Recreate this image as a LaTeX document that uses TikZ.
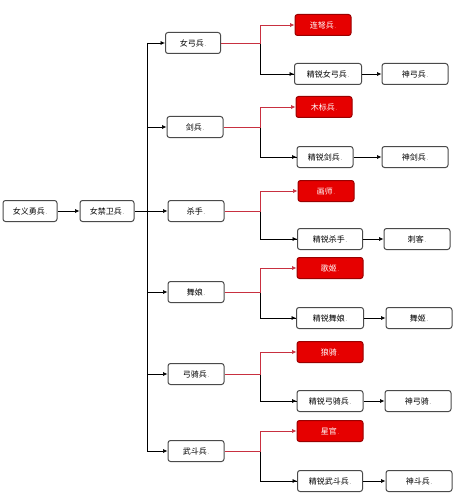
\documentclass[tikz,border=0pt]{standalone}
\usepackage{fontspec}
\newfontfamily\cjk{Noto Sans CJK SC}
\usetikzlibrary{arrows.meta}
\definecolor{boxline}{HTML}{4A4A4A}
\definecolor{redfill}{HTML}{E60000}
\definecolor{redborder}{HTML}{9A0000}
\definecolor{redln}{HTML}{C83040}
\newcommand\ptail{{\fontsize{5}{5}\selectfont\,.}}
\begin{document}
\begin{tikzpicture}[x=1pt,y=-1pt,
  box/.style={draw=boxline, line width=1pt, rounded corners=2.5pt, minimum height=21pt,
    inner sep=0pt, fill=white, font=\cjk\fontsize{8}{9}\selectfont},
  redbox/.style={box, draw=redborder, fill=redfill, text=white},
  arr/.style={draw=black, line width=0.7pt, -{Latex[length=4.5pt,width=4pt]}},
  redarr/.style={draw=redln, line width=0.7pt, -{Latex[length=4.5pt,width=4pt]}},
  ln/.style={draw=black, line width=0.7pt}]
\useasboundingbox (0,0) rectangle (462,500);
\fill[white] (0,0) rectangle (462,500);
% level 0 / 1
\node[box, minimum width=54pt] (a) at (30,211) {女义勇兵\ptail};
\node[box, minimum width=54pt] (b) at (107,211) {女禁卫兵\ptail};
\draw[arr] (a) -- (b);
\coordinate (t) at (147,211);
\coordinate (ttop) at (147,43);
\coordinate (tbot) at (147,451);
\draw[ln] (b.east) -- (t);
\draw[ln] (ttop) -- (tbot);
% level 2
\node[box, minimum width=55pt] (g1) at (193,43)  {女弓兵\ptail};
\node[box, minimum width=56pt] (g2) at (195,127) {剑兵\ptail};
\node[box, minimum width=56pt] (g3) at (196,211) {杀手\ptail};
\node[box, minimum width=56pt] (g4) at (196,292) {舞娘\ptail};
\node[box, minimum width=56pt] (g5) at (196,374) {弓骑兵\ptail};
\node[box, minimum width=56pt] (g6) at (196,451) {武斗兵\ptail};
\foreach \i/\y in {1/43,2/127,3/211,4/292,5/374,6/451}{
  \coordinate (s\i) at (147,\y);
  \draw[arr] (s\i) -- (g\i.west);
}
% red boxes
\node[redbox, minimum width=56pt] (r1) at (323,25)  {连弩兵\ptail};
\node[redbox, minimum width=56pt] (r2) at (324,107) {木标兵\ptail};
\node[redbox, minimum width=56pt] (r3) at (326,191) {画师\ptail};
\node[redbox, minimum width=66pt] (r4) at (330,268) {歌姬\ptail};
\node[redbox, minimum width=66pt] (r5) at (330,352) {狼骑\ptail};
\node[redbox, minimum width=66pt] (r6) at (330,431) {星官\ptail};
% elite boxes
\node[box, minimum width=67pt] (w1) at (328,74)  {精锐女弓兵\ptail};
\node[box, minimum width=56pt] (w2) at (325,157) {精锐剑兵\ptail};
\node[box, minimum width=65pt] (w3) at (330,239) {精锐杀手\ptail};
\node[box, minimum width=67pt] (w4) at (330,318) {精锐舞娘\ptail};
\node[box, minimum width=66pt] (w5) at (330,401) {精锐弓骑兵\ptail};
\node[box, minimum width=65pt] (w6) at (330,481) {精锐武斗兵\ptail};
% final boxes
\node[box, minimum width=66pt] (f1) at (415,74)  {神弓兵\ptail};
\node[box, minimum width=66pt] (f2) at (415,157) {神剑兵\ptail};
\node[box, minimum width=66pt] (f3) at (417,239) {刺客\ptail};
\node[box, minimum width=66pt] (f4) at (419,318) {舞姬\ptail};
\node[box, minimum width=66pt] (f5) at (418,401) {神弓骑\ptail};
\node[box, minimum width=66pt] (f6) at (419,481) {神斗兵\ptail};
% connectors
\foreach \i/\y in {1/43,2/127,3/211,4/292,5/374,6/451}{
  \coordinate (j\i) at (260,\y);
  \draw[ln] (j\i) |- (w\i.west);
  \draw[arr] ([xshift=-6pt]w\i.west) -- (w\i.west);
  \draw[redarr] (g\i.east) -- (j\i) |- (r\i.west);
  \draw[arr] (w\i) -- (f\i);
}
\end{tikzpicture}
\end{document}
